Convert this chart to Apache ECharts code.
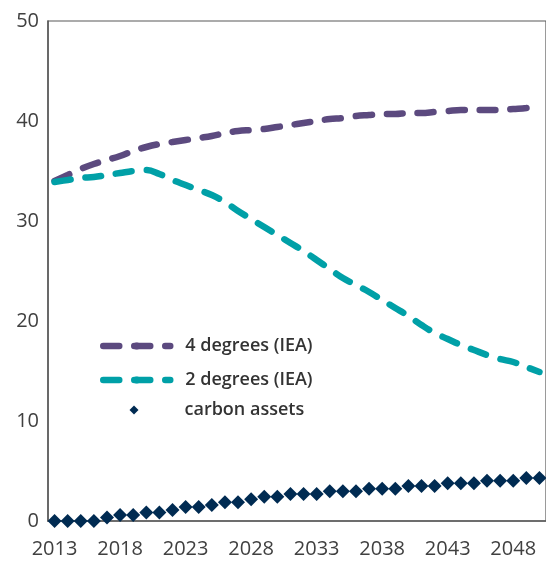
<!DOCTYPE html>
<html><head><meta charset="utf-8">
<script src="https://cdn.jsdelivr.net/npm/echarts@6/dist/echarts.min.js"></script>
<style>html,body{margin:0;padding:0;background:#fff}#c{width:546px;height:561px}</style>
</head><body><div id="c"></div>
<script>
var years = [];
for (var y = 2013; y <= 2050; y++) years.push(String(y));
var fourDegrees = [34.0,34.6,35.2,35.7,36.1,36.5,37.0,37.4,37.7,37.9,38.1,38.3,38.5,38.8,39.0,39.1,39.2,39.4,39.6,39.8,40.0,40.2,40.3,40.5,40.6,40.7,40.7,40.8,40.8,40.9,41.0,41.1,41.1,41.1,41.1,41.2,41.3,41.6];
var twoDegrees = [33.9,34.1,34.3,34.4,34.6,34.8,35.0,35.1,34.7,34.1,33.6,33.1,32.6,31.9,31.0,30.2,29.4,28.6,27.8,27.0,26.1,25.2,24.3,23.6,22.9,22.1,21.3,20.5,19.6,18.8,18.2,17.6,17.1,16.6,16.2,15.9,15.4,14.9];
var carbonAssets = [0,0,0,0,0.35,0.6,0.6,0.85,0.85,1.1,1.4,1.4,1.6,1.87,1.87,2.17,2.43,2.43,2.7,2.7,2.7,2.97,2.97,2.97,3.23,3.23,3.23,3.5,3.5,3.5,3.77,3.77,3.77,4.03,4.03,4.03,4.3,4.3];
var seriesNames = ['4 degrees (IEA)', '2 degrees (IEA)', 'carbon assets'];

var chart = echarts.init(document.getElementById('c'), null, {renderer: 'canvas'});
var legendTextStyle = {fontFamily: 'Open Sans', fontSize: 18, fontWeight: 600, color: '#333333'};
function mkLegend(name, top, left, w, h, padLeft) {
  return {
    data: [name], left: left, top: top, orient: 'vertical', padding: 0,
    itemWidth: w, itemHeight: h, selectedMode: false,
    lineStyle: {width: 6.5},
    textStyle: Object.assign({padding: [0, 0, 0, padLeft]}, legendTextStyle)
  };
}
chart.setOption({
  animation: false,
  backgroundColor: '#ffffff',
  grid: {left: 48, top: 21, width: 499, height: 500, show: true, borderColor: '#595959', borderWidth: 1.2, backgroundColor: 'transparent'},
  legend: [
    mkLegend(seriesNames[0], 337, 100, 67, 9, 10),
    mkLegend(seriesNames[1], 371, 100, 67, 9, 10),
    mkLegend(seriesNames[2], 401, 129.5, 9, 9, 41)
  ],
  xAxis: {
    type: 'category', data: years, boundaryGap: true,
    axisLine: {lineStyle: {color: '#595959', width: 1.5}},
    axisTick: {interval: 4, length: 6, lineStyle: {color: '#595959', width: 1.5}},
    axisLabel: {interval: 4, fontFamily: 'Open Sans', fontSize: 20, color: '#404040', margin: 18},
    splitLine: {show: false}
  },
  yAxis: {
    type: 'value', min: 0, max: 50, interval: 10,
    axisLine: {show: true, lineStyle: {color: '#595959', width: 1.5}},
    axisTick: {show: false},
    axisLabel: {fontFamily: 'Open Sans', fontSize: 20, color: '#404040', margin: 9},
    splitLine: {show: false}
  },
  series: [
    {name: seriesNames[0], type: 'line', data: fourDegrees, symbol: 'none', smooth: 0.4,
     itemStyle: {color: '#5c4a7f'},
     lineStyle: {color: '#5c4a7f', width: 6.5, type: [16, 15], cap: 'round'}},
    {name: seriesNames[1], type: 'line', data: twoDegrees, symbol: 'none', smooth: 0.4,
     itemStyle: {color: '#00a0a7'},
     lineStyle: {color: '#00a0a7', width: 6.5, type: [16, 15], cap: 'round'}},
    {name: seriesNames[2], type: 'scatter', data: carbonAssets, symbol: 'diamond', symbolSize: 14,
     itemStyle: {color: '#002b52', opacity: 1}, z: 5}
  ]
});
</script></body></html>
